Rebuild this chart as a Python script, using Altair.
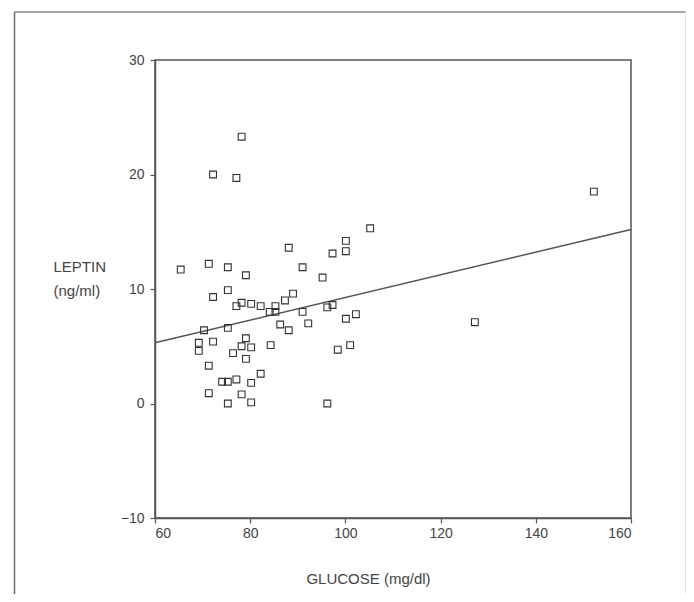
import altair as alt
import pandas as pd

glucose = [78.2, 72.2, 77.1, 152.2, 105.2, 88.1, 100.1, 97.3, 100.1, 71.3,
           75.3, 65.4, 91.0, 79.1, 95.2, 75.3, 72.2, 89.0, 87.3, 78.2,
           77.1, 80.2, 82.2, 85.3, 84.1, 85.3, 91.0, 96.2, 97.3, 100.1,
           102.2, 86.3, 92.2, 88.1, 70.3, 75.3, 127.2, 69.2, 69.2, 72.2,
           79.1, 78.2, 80.2, 76.4, 79.1, 84.3, 98.4, 101.0, 71.3, 82.2,
           74.1, 75.3, 77.1, 80.2, 71.3, 78.2, 75.3, 80.2, 96.2]
leptin = [23.3, 20.0, 19.7, 18.5, 15.3, 13.6, 14.2, 13.1, 13.3, 12.2,
          11.9, 11.7, 11.9, 11.2, 11.0, 9.9, 9.3, 9.6, 9.0, 8.8,
          8.5, 8.7, 8.5, 8.5, 8.0, 8.0, 8.0, 8.4, 8.6, 7.4,
          7.8, 6.9, 7.0, 6.4, 6.4, 6.6, 7.1, 5.3, 4.6, 5.4,
          5.7, 5.0, 4.9, 4.4, 3.9, 5.1, 4.7, 5.1, 3.3, 2.6,
          1.9, 1.9, 2.1, 1.8, 0.9, 0.8, 0.0, 0.1, 0.0]

fit_x = [60, 160]
fit_y = [5.3, 15.2]

x_ticks = [60, 80, 100, 120, 140, 160]
y_ticks = [-10, 0, 10, 20, 30]

FONT = "Liberation Sans"
TXT = "#444444"
AX = "#555555"

pts = pd.DataFrame({"g": glucose, "l": leptin})
fit = pd.DataFrame({"g": fit_x, "l": fit_y})

xscale = alt.Scale(domain=[60, 160], nice=False, zero=False)
yscale = alt.Scale(domain=[-10, 30], nice=False, zero=False)

xaxis = alt.Axis(values=x_ticks, title="GLUCOSE (mg/dl)", grid=False,
                 tickSize=5, labelPadding=3, domainColor=AX, tickColor=AX,
                 domainWidth=1.5, tickWidth=1.2,
                 labelFont=FONT, labelFontSize=14, labelColor=TXT,
                 titleFont=FONT, titleFontSize=15, titleFontWeight="normal",
                 titleColor=TXT, titleX=213, titleY=60, titleBaseline="middle",
                 titleAlign="center")
yaxis = alt.Axis(values=y_ticks, title=["LEPTIN", "(ng/ml)"], grid=False,
                 tickSize=5, labelPadding=6, domainColor=AX, tickColor=AX,
                 domainWidth=1.5, tickWidth=1.2,
                 labelFont=FONT, labelFontSize=14, labelColor=TXT,
                 titleFont=FONT, titleFontSize=15, titleFontWeight="normal",
                 titleColor=TXT, titleAngle=0, titleAlign="left",
                 titleBaseline="top", titleX=-102, titleY=199,
                 titleLineHeight=24)

points = alt.Chart(pts).mark_point(shape="square", filled=False, size=46,
                                   color="#333333", strokeWidth=1.1, opacity=1).encode(
    x=alt.X("g:Q", scale=xscale, axis=xaxis),
    y=alt.Y("l:Q", scale=yscale, axis=yaxis),
)

line = alt.Chart(fit).mark_line(color="#555555", strokeWidth=1.5).encode(
    x=alt.X("g:Q", scale=xscale),
    y=alt.Y("l:Q", scale=yscale),
)

one = alt.Data(values=[{"a": 1}])
frame_left = alt.Chart(one).mark_rule(color="#6a6a6a", strokeWidth=1.5).encode(
    x=alt.value(-140.5), y=alt.value(-48), y2=alt.value(534))
frame_top = alt.Chart(one).mark_rule(color="#888888", strokeWidth=1.5).encode(
    x=alt.value(-140.5), x2=alt.value(531), y=alt.value(-48))
frame_right = alt.Chart(one).mark_rule(color="#e4e4e4", strokeWidth=1).encode(
    x=alt.value(530.5), y=alt.value(-48), y2=alt.value(534))

chart = alt.layer(frame_left, frame_top, frame_right, line, points).properties(
    width=476, height=458,
    background="white",
    autosize=alt.AutoSizeParams(type="none"),
    padding={"left": 147, "top": 52, "right": 55, "bottom": 76},
).configure_view(stroke=AX, strokeWidth=1.5)

chart.save("out.html", embed_options={"renderer": "svg", "actions": False})
